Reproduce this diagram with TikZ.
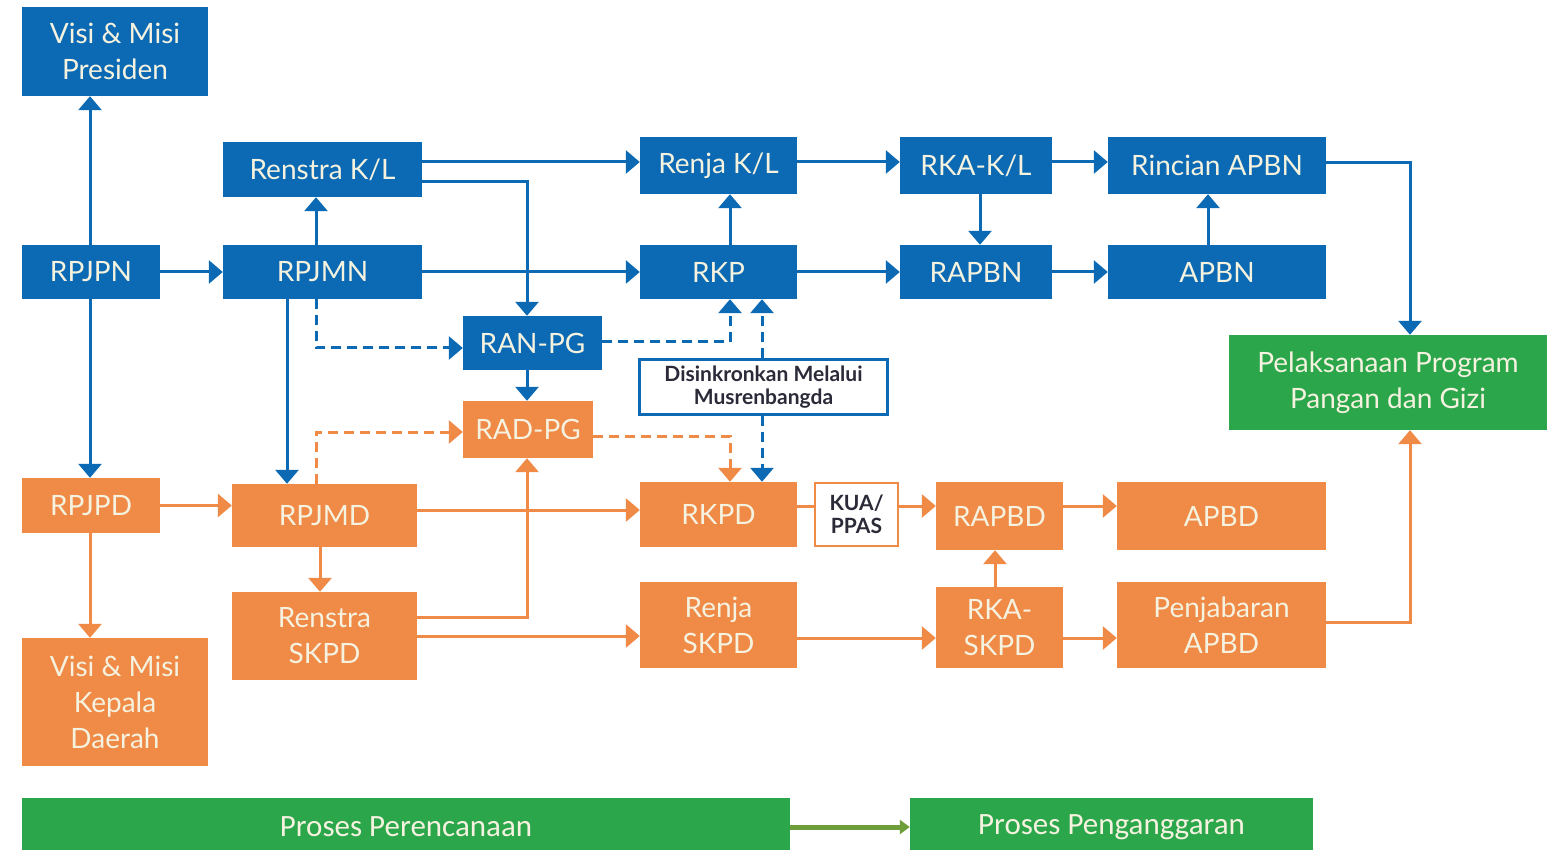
\documentclass[tikz,border=0pt]{standalone}
\usepackage{fontspec}
\setmainfont{Lato}
\newfontfamily\carl{Carlito}
\newfontfamily\latoblack{Lato Black}
\usetikzlibrary{arrows.meta,calc}
\definecolor{cblue}{HTML}{0B6AB3}
\definecolor{corange}{HTML}{F08A47}
\definecolor{cgreen}{HTML}{2BA64A}
\definecolor{ctext}{HTML}{F5F2E0}
\definecolor{cdark}{HTML}{2A2A38}
\definecolor{carrgreen}{HTML}{6E9E3A}
\begin{document}
\begin{tikzpicture}[x=1pt,y=-1pt,
  wh/.style 2 args={minimum width=#1pt, minimum height=#2pt},
  box/.style={inner sep=0pt, align=center, text=ctext, font=\fontsize{28}{36}\selectfont},
  bbox/.style={box, fill=cblue},
  obox/.style={box, fill=corange},
  gbox/.style={box, fill=cgreen},
  wbox/.style={inner sep=0pt, align=center, text=cdark, fill=white, line width=2.5pt, font=\bfseries\fontsize{21}{23}\selectfont},
  barr/.style={draw=cblue, line width=3pt, -{Triangle[width=23pt,length=14pt]}},
  oarr/.style={draw=corange, line width=3pt, -{Triangle[width=23pt,length=14pt]}},
  oline/.style={draw=corange, line width=3pt},
  dsh/.style={dash pattern=on 10pt off 6pt},
]
\useasboundingbox (0,0) rectangle (1551,850);
% blue row nodes
\node[bbox, wh={186}{89}] (vmp) at (115,51.5) {Visi \& Misi\\Presiden};
\node[bbox, wh={199}{55}] (renstraKL) at (322.5,169.5) {Renstra K/L};
\node[bbox, wh={157}{57}] (renjaKL) at (718.5,165.5) {Renja K/L};
\node[bbox, wh={152}{57}] (rkaKL) at (976,165.5) {RKA-K/L};
\node[bbox, wh={218}{57}] (rincian) at (1217,165.5) {Rincian APBN};
\node[bbox, wh={138}{54}] (rpjpn) at (91,272) {RPJPN};
\node[bbox, wh={199}{54}] (rpjmn) at (322.5,272) {RPJMN};
\node[bbox, wh={157}{54}] (rkp) at (718.5,272) {RKP};
\node[bbox, wh={152}{54}] (rapbn) at (976,272) {RAPBN};
\node[bbox, wh={218}{54}] (apbn) at (1217,272) {APBN};
\node[bbox, wh={139}{54}] (ranpg) at (532.5,343) {RAN-PG};
\node[obox, wh={130}{57}] (radpg) at (528,429.5) {RAD-PG};
\node[wbox, draw=cblue, wh={248}{55}] (sync) at (763.5,387) {Disinkronkan Melalui\\Musrenbangda};
\node[gbox, wh={318}{95}] (pelaks) at (1388,382.5) {Pelaksanaan Program\\Pangan dan Gizi};
% orange nodes
\node[obox, wh={138}{55}] (rpjpd) at (91,505.5) {RPJPD};
\node[obox, wh={185}{63}] (rpjmd) at (324.5,515.5) {RPJMD};
\node[obox, wh={157}{65}] (rkpd) at (718.5,514.5) {RKPD};
\node[wbox, draw=corange, wh={83}{63}] (kua) at (856.5,514.5) {KUA/\\PPAS};
\node[obox, wh={127}{68}] (rapbd) at (999.5,516) {RAPBD};
\node[obox, wh={209}{68}] (apbd) at (1221.5,516) {APBD};
\node[obox, wh={185}{88}] (renstraSKPD) at (324.5,636) {Renstra\\SKPD};
\node[obox, wh={157}{86}] (renjaSKPD) at (718.5,625) {Renja\\SKPD};
\node[obox, wh={127}{81}] (rkaSKPD) at (999.5,627.5) {RKA-\\SKPD};
\node[obox, wh={209}{86}] (penjabaran) at (1221.5,625) {Penjabaran\\APBD};
\node[obox, wh={186}{128}] (vmkd) at (115,702) {Visi \& Misi\\Kepala\\Daerah};
% legend
\node[gbox, wh={768}{58}, font=\carl\fontsize{31}{34}\selectfont] (pp) at (406,827) {Proses Perencanaan};
\node[gbox, wh={403}{58}, font=\carl\fontsize{31}{34}\selectfont] (pg) at (1111.5,827) {Proses Penganggaran};
\draw[draw=carrgreen, line width=5pt, -{Triangle[width=14pt,length=10pt]}] (pp.east) -- (pg.west);

% blue connectors
\draw[barr] (rpjpn.north -| 90,0) -- (vmp.south -| 90,0);
\draw[barr] (rpjpn.east) -- (rpjmn.west);
\draw[barr] (rpjmn.north -| 316,0) -- (renstraKL.south -| 316,0);
\draw[barr] (renstraKL.east |- 0,162) -- (renjaKL.west |- 0,162);
\draw[barr] (renstraKL.east |- 0,182) -| (ranpg.north -| 527,0);
\draw[barr] (rpjmn.east) -- (rkp.west);
\draw[barr] (rkp.north -| 730,0) -- (renjaKL.south -| 730,0);
\draw[barr] (renjaKL.east |- 0,162) -- (rkaKL.west |- 0,162);
\draw[barr] (rkaKL.south -| 980,0) -- (rapbn.north -| 980,0);
\draw[barr] (rkaKL.east |- 0,162) -- (rincian.west |- 0,162);
\draw[barr] (rkp.east) -- (rapbn.west);
\draw[barr] (rapbn.east) -- (apbn.west);
\draw[barr] (apbn.north -| 1208,0) -- (rincian.south -| 1208,0);
\draw[barr] (rincian.east |- 0,163) -| (pelaks.north -| 1410,0);
\draw[barr] (rpjpn.south -| 90,0) -- (rpjpd.north -| 90,0);
\draw[barr] (rpjmn.south -| 287,0) -- (rpjmd.north -| 287,0);
\draw[barr, dsh] (rpjmn.south -| 316,0) |- (ranpg.west |- 0,348);
\draw[barr, dsh] (ranpg.east |- 0,342) -| (rkp.south -| 730,0);
\draw[barr] (ranpg.south -| 527,0) -- (radpg.north -| 527,0);
\draw[barr, dsh] (sync.north -| 762,0) -- (rkp.south -| 762,0);
\draw[barr, dsh] (sync.south -| 762,0) -- (rkpd.north -| 762,0);

% orange connectors
\draw[oarr, dsh] (rpjmd.north -| 316,0) |- (radpg.west |- 0,432);
\draw[oarr, dsh] (radpg.east |- 0,436) -| (rkpd.north -| 730,0);
\draw[oarr] (rpjpd.east) -- (rpjmd.west |- rpjpd.east);
\draw[oarr] (rpjpd.south -| 90,0) -- (vmkd.north -| 90,0);
\draw[oarr] (rpjmd.south -| 320,0) -- (renstraSKPD.north -| 320,0);
\draw[oarr] (rpjmd.east |- 0,510) -- (rkpd.west |- 0,510);
\draw[oarr] (renstraSKPD.east |- 0,617) -| (radpg.south -| 527,0);
\draw[oarr] (renstraSKPD.east |- 0,636) -- (renjaSKPD.west |- 0,636);
\draw[oline] (rkpd.east |- 0,506) -- (kua.west |- 0,506);
\draw[oarr] (kua.east |- 0,506) -- (rapbd.west |- 0,506);
\draw[oarr] (rapbd.east |- 0,506) -- (apbd.west |- 0,506);
\draw[oarr] (rkaSKPD.north -| 995,0) -- (rapbd.south -| 995,0);
\draw[oarr] (renjaSKPD.east |- 0,638) -- (rkaSKPD.west |- 0,638);
\draw[oarr] (rkaSKPD.east |- 0,638) -- (penjabaran.west |- 0,638);
\draw[oarr] (penjabaran.east |- 0,622) -| (pelaks.south -| 1410,0);
\end{tikzpicture}
\end{document}
